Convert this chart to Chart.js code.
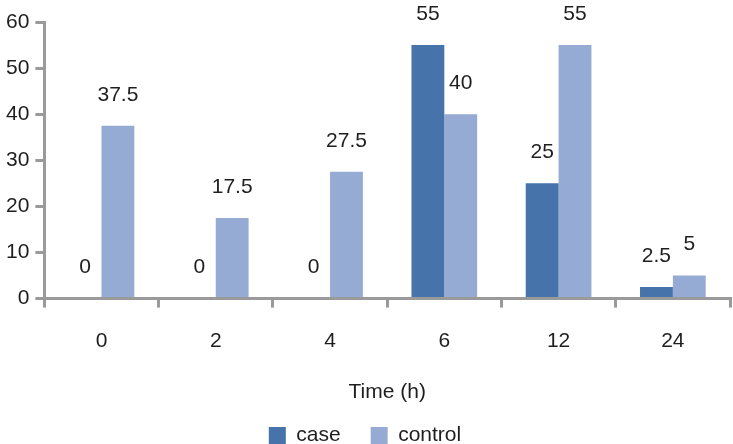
<!DOCTYPE html>
<html>
<head>
<meta charset="utf-8">
<script src="https://cdn.jsdelivr.net/npm/chart.js@4"></script>
<style>
  body { margin: 0; background: #fff; }
  #wrap { width: 733px; height: 444px; }
</style>
</head>
<body>
<div id="wrap"><canvas id="grafico"></canvas></div>
<script>
const categorias = ['0', '2', '4', '6', '12', '24'];
const valoresCase = [0, 0, 0, 55, 25, 2.5];
const valoresControl = [37.5, 17.5, 27.5, 40, 55, 5];
const ticksY = [0, 10, 20, 30, 40, 50, 60];

const corCase = '#4673A9';
const corControl = '#95ABD4';
const corEixo = '#9A9A9A';
const corTexto = '#1E1E1E';
const fonte = 'Liberation Sans, Arial, sans-serif';

// escreve o valor acima de cada barra
const rotulos = {
    id: 'rotulos',
    afterDatasetsDraw(chart) {
        const ctx = chart.ctx;
        ctx.save();
        ctx.font = '21px ' + fonte;
        ctx.fillStyle = corTexto;
        ctx.textAlign = 'center';
        ctx.textBaseline = 'middle';
        chart.data.datasets.forEach((ds, i) => {
            chart.getDatasetMeta(i).data.forEach((bar, j) => {
                ctx.fillText(String(ds.data[j]), bar.x, bar.y - 31);
            });
        });
        ctx.restore();
    }
};

new Chart(document.getElementById('grafico').getContext('2d'), {
    type: 'bar',
    data: {
        labels: categorias,
        datasets: [
            { label: 'case', data: valoresCase, backgroundColor: corCase },
            { label: 'control', data: valoresControl, backgroundColor: corControl }
        ]
    },
    options: {
        responsive: true,
        maintainAspectRatio: false,
        animation: false,
        layout: { padding: { top: 22, right: 3, left: 0, bottom: -12 } },
        datasets: { bar: { categoryPercentage: 0.575, barPercentage: 1 } },
        scales: {
            x: {
                grid: { drawOnChartArea: false, drawTicks: true, tickLength: 9, color: corEixo, lineWidth: 3 },
                border: { color: corEixo, width: 3 },
                ticks: { color: corTexto, font: { size: 21, family: fonte }, padding: 21 },
                title: { display: true, text: 'Time (h)', color: corTexto, font: { size: 21, family: fonte }, padding: { top: 5, bottom: -10 } }
            },
            y: {
                min: 0,
                max: 60,
                afterBuildTicks(axis) { axis.ticks = ticksY.map(v => ({ value: v })); },
                grid: { drawOnChartArea: false, drawTicks: true, tickLength: 9, color: corEixo, lineWidth: 3 },
                border: { color: corEixo, width: 3 },
                ticks: { color: corTexto, font: { size: 21, family: fonte }, padding: 6 }
            }
        },
        plugins: {
            legend: {
                position: 'bottom',
                labels: { boxWidth: 17, boxHeight: 17, padding: 30, color: corTexto, font: { size: 21, family: fonte } }
            },
            tooltip: { enabled: false },
            title: { display: false }
        }
    },
    plugins: [rotulos]
});
</script>
</body>
</html>
